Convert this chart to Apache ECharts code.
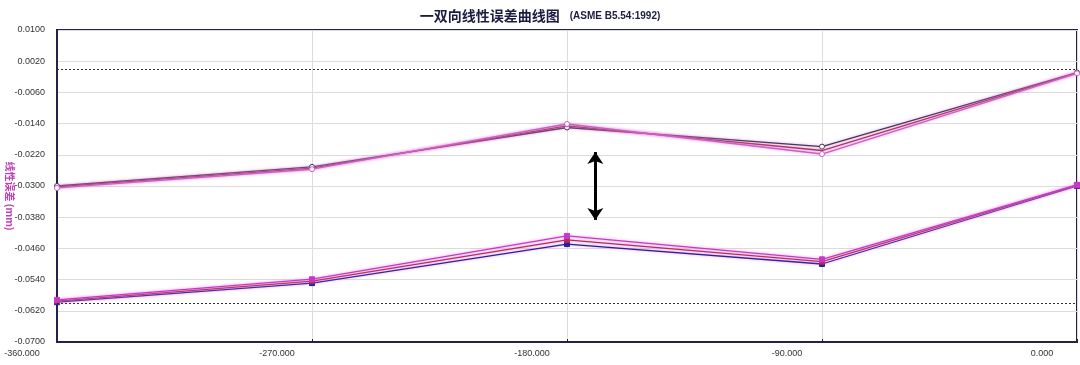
<!DOCTYPE html>
<html><head><meta charset="utf-8">
<script src="https://cdn.jsdelivr.net/npm/echarts@6/dist/echarts.min.js"></script>
<style>html,body{margin:0;padding:0;background:#fff}#c{width:1080px;height:365px}</style>
</head><body><div id="c"></div>
<script>
var positions = [-360, -270, -180, -90, 0];
// upper group (forward runs)
var upperDark  = [-0.0300, -0.0251, -0.0150, -0.0199, -0.0009];
var upperRed   = [-0.0302, -0.0254, -0.0146, -0.0209, -0.0010];
var upperPink  = [-0.0305, -0.0257, -0.0141, -0.0218, -0.0011];
// lower group (reverse runs)
var lowerNavy  = [-0.0598, -0.0549, -0.0449, -0.0500, -0.0300];
var lowerRed   = [-0.0595, -0.0544, -0.0438, -0.0494, -0.0298];
var lowerPink  = [-0.0592, -0.0539, -0.0428, -0.0488, -0.0297];
var limitLines = [-0.0010, -0.0597];
var arrowX = -170;
var arrowEnds = [-0.0213, -0.0387];
var yTicks = {min: -0.0700, max: 0.0100, step: 0.0080};
var xTicks = {min: -360, max: 0, step: 90};

function pts(ys){ return positions.map(function(x,i){ return [x, ys[i]]; }); }
function mk(name, ys, color, symbol, hollow, z){
  return {
    name: name, type: 'line', data: pts(ys), z: z,
    symbol: symbol, symbolSize: 5,
    showSymbol: true,
    lineStyle: {color: color, width: 1.3, shadowColor: 'rgba(230,130,220,0.9)', shadowBlur: 3},
    itemStyle: hollow ? {color: '#fff', borderColor: color, borderWidth: 1} : {color: color, borderColor: color},
    emphasis: {disabled: true}, animation: false
  };
}
var series = [
  mk('u1', upperDark, '#3a3a50', 'circle', true, 3),
  mk('u2', upperRed, '#b03058', 'none', true, 4),
  mk('u3', upperPink, '#c860c8', 'circle', true, 5),
  mk('l1', lowerNavy, '#22229a', 'rect', false, 3),
  mk('l2', lowerRed, '#b82a5a', 'rect', false, 4),
  mk('l3', lowerPink, '#c838c8', 'rect', false, 5)
];
series.push({
  type: 'line', data: [], silent: true, animation: false,
  markLine: {
    silent: true, symbol: ['none','none'], label: {show: false},
    lineStyle: {color: '#333', type: [2, 2], width: 1},
    data: limitLines.map(function(v){ return {yAxis: v}; })
  }
});
series.push({
  type: 'line', data: [], silent: true, animation: false,
  markLine: {
    silent: true, symbol: ['arrow','arrow'], symbolSize: [12, 12], label: {show: false},
    lineStyle: {color: '#000', type: 'solid', width: 3},
    data: [[{coord: [arrowX, arrowEnds[0]]}, {coord: [arrowX, arrowEnds[1]]}]]
  }
});

var chart = echarts.init(document.getElementById('c'), null, {renderer: 'canvas'});
chart.setOption({
  animation: false,
  title: {
    left: 'center', top: 2,
    text: '{a|一双向线性误差曲线图}  {b|(ASME B5.54:1992)}',
    textStyle: {
      rich: {
        a: {fontFamily: 'Noto Sans CJK SC', fontWeight: 'bold', fontSize: 14, color: '#1c1c40'},
        b: {fontFamily: 'Liberation Sans', fontWeight: 'bold', fontSize: 10, color: '#1c1c40'}
      }
    }
  },
  grid: {left: 57, right: 3, top: 30, bottom: 23, containLabel: false, outerBoundsMode: 'none',
         show: true, borderColor: '#22224a', borderWidth: 2, backgroundColor: '#fff'},
  xAxis: {
    type: 'value', min: xTicks.min, max: xTicks.max, interval: xTicks.step,
    axisLine: {show: true, onZero: false, lineStyle: {color: '#22224a', width: 2}},
    axisTick: {show: true, length: 3, inside: true, lineStyle: {color: '#22224a'}},
    splitLine: {show: true, lineStyle: {color: '#dcdcdc', width: 1}},
    axisLabel: {
      fontFamily: 'Liberation Sans', fontSize: 9, color: '#333', margin: 7,
      align: 'center', padding: [0, 70, 0, 0],
      showMinLabel: true, showMaxLabel: true, hideOverlap: false,
      formatter: function(v){ return v.toFixed(3); }
    }
  },
  yAxis: {
    type: 'value', min: yTicks.min, max: yTicks.max, interval: yTicks.step,
    name: '线性误差 (mm)', nameLocation: 'middle', nameGap: 42, nameRotate: -90, nameMoveOverlap: false,
    nameTextStyle: {fontFamily: 'Noto Sans CJK SC', fontSize: 10, fontWeight: 'bold', color: '#c040b8', padding: [0, 0, 0, 20]},
    axisLine: {show: true, onZero: false, lineStyle: {color: '#22224a', width: 2}},
    axisTick: {show: false},
    splitLine: {show: true, lineStyle: {color: '#dcdcdc', width: 1}},
    axisLabel: {
      fontFamily: 'Liberation Sans', fontSize: 9, color: '#333', margin: 12,
      showMinLabel: true, showMaxLabel: true,
      formatter: function(v){ return v.toFixed(4); }
    }
  },
  series: series
});
</script>
</body></html>
